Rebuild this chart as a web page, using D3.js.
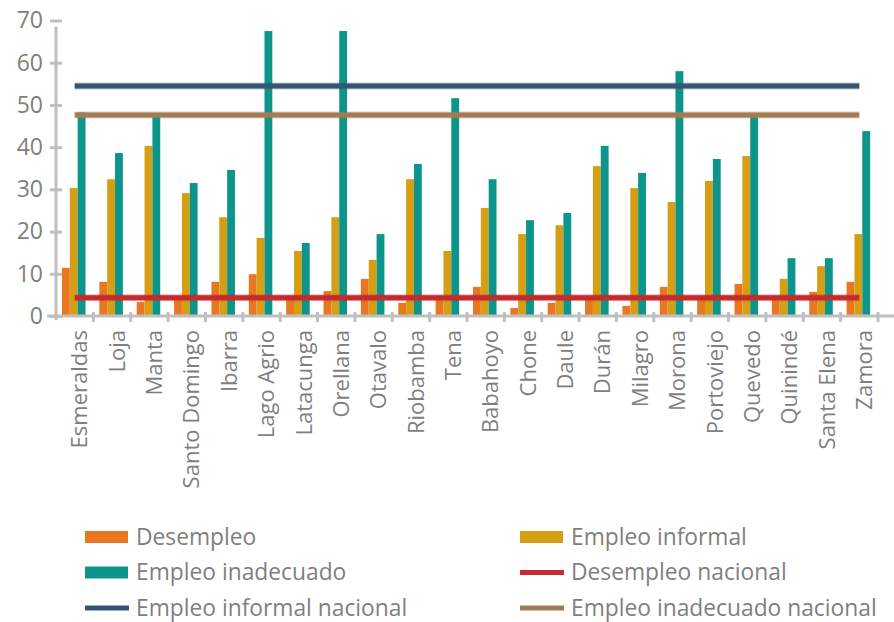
<!DOCTYPE html>
<html>
<head>
<meta charset="utf-8">
<script src="https://cdn.jsdelivr.net/npm/d3@7"></script>
<style>
  html, body { margin: 0; padding: 0; background: #fff; }
  svg { display: block; }
  text { font-family: "Open Sans", "Noto Sans", sans-serif; }
</style>
</head>
<body>
<svg id="chart" width="894" height="622"></svg>
<script>
const categories = ["Esmeraldas","Loja","Manta","Santo Domingo","Ibarra","Lago Agrio","Latacunga","Orellana","Otavalo","Riobamba","Tena","Babahoyo","Chone","Daule","Durán","Milagro","Morona","Portoviejo","Quevedo","Quinindé","Santa Elena","Zamora"];
const desempleo = [11.4, 8.1, 3.3, 4.2, 8.1, 9.9, 4.0, 5.9, 8.8, 3.1, 4.3, 6.9, 1.9, 3.1, 4.2, 2.4, 6.9, 4.0, 7.6, 4.2, 5.7, 8.1];
const empleoInformal = [30.3, 32.4, 40.3, 29.1, 23.4, 18.5, 15.4, 23.4, 13.3, 32.4, 15.4, 25.6, 19.4, 21.5, 35.5, 30.3, 27.0, 32.0, 37.9, 8.8, 11.8, 19.4];
const empleoInadecuado = [48.2, 38.6, 47.2, 31.5, 34.6, 67.5, 17.3, 67.5, 19.4, 36.0, 51.6, 32.4, 22.7, 24.4, 40.3, 33.9, 58.0, 37.2, 47.1, 13.7, 13.7, 43.8];
const desempleoNacional = 4.3;
const empleoInformalNacional = 54.5;
const empleoInadecuadoNacional = 47.6;
const yTicks = [0, 10, 20, 30, 40, 50, 60, 70];

const barSeries = [
  { name: "Desempleo", values: desempleo, color: "#E87722" },
  { name: "Empleo informal", values: empleoInformal, color: "#D69E14" },
  { name: "Empleo inadecuado", values: empleoInadecuado, color: "#0E958B" }
];
const lineSeries = [
  { name: "Desempleo nacional", value: desempleoNacional, color: "#C42A2E" },
  { name: "Empleo informal nacional", value: empleoInformalNacional, color: "#34576F" },
  { name: "Empleo inadecuado nacional", value: empleoInadecuadoNacional, color: "#A57B53" }
];

const svg = d3.select("#chart");
const axisColor = "#BFBFBF";
const textColor = "#7F7F7F";

const x = d3.scaleBand().domain(categories).range([56, 878]).padding(0);
const bw = x.bandwidth();
const xs = d3.scaleBand().domain(barSeries.map(d => d.name)).range([bw * 0.16, bw * 0.79]).padding(0);
const y = d3.scaleLinear().domain([0, 70]).range([316, 20.5]);

// Bars
const g = svg.append("g");
barSeries.forEach(s => {
  g.selectAll(null).data(categories).enter().append("rect")
    .attr("x", (c) => x(c) + xs(s.name))
    .attr("width", xs.bandwidth())
    .attr("y", (c, i) => y(s.values[i]))
    .attr("height", (c, i) => y(0) - y(s.values[i]))
    .attr("fill", s.color);
});

// Axes lines
svg.append("line").attr("x1", 56).attr("x2", 56).attr("y1", y(70) + 6).attr("y2", y(0) + 4)
  .attr("stroke", axisColor).attr("stroke-width", 3);
svg.append("line").attr("x1", 47).attr("x2", 894).attr("y1", y(0)).attr("y2", y(0))
  .attr("stroke", axisColor).attr("stroke-width", 3);

// Y axis
const yAxis = svg.append("g").attr("transform", "translate(56,0)")
  .call(d3.axisLeft(y).tickValues(yTicks).tickSize(6).tickPadding(7).tickFormat(d3.format("d")));
yAxis.select(".domain").remove();
yAxis.selectAll(".tick line").attr("x1", -6).attr("x2", 6).attr("stroke", axisColor).attr("stroke-width", 3);
yAxis.selectAll(".tick text").attr("fill", textColor).style("font-size", "23px").style("font-family", "Open Sans");

// X axis ticks at band boundaries
const bounds = categories.map(c => x(c)).concat([x(categories[categories.length - 1]) + bw]);
svg.append("g").selectAll("line").data(bounds.slice(1)).enter().append("line")
  .attr("x1", d => d).attr("x2", d => d).attr("y1", y(0) - 4).attr("y2", y(0) + 6)
  .attr("stroke", axisColor).attr("stroke-width", 3);

// X labels
const xAxis = svg.append("g").attr("transform", `translate(0,${y(0)})`)
  .call(d3.axisBottom(x).tickSize(0).tickPadding(0));
xAxis.select(".domain").remove();
xAxis.selectAll(".tick text")
  .attr("transform", "translate(5,14) rotate(-90)")
  .attr("text-anchor", "end")
  .attr("x", 0).attr("y", 0).attr("dy", "0.35em")
  .attr("fill", textColor)
  .style("font-size", "22px").style("font-family", "Open Sans");

// National lines
lineSeries.forEach(s => {
  const ln = d3.line().x(c => x(c) + bw / 2).y(() => y(s.value));
  svg.append("path").datum(categories).attr("d", ln)
    .attr("fill", "none").attr("stroke", s.color).attr("stroke-width", 7).attr("stroke-opacity", 0.35);
  svg.append("path").datum(categories).attr("d", ln)
    .attr("fill", "none").attr("stroke", s.color).attr("stroke-width", 5);
});

// Legend
const legendItems = [
  { name: "Desempleo", color: "#E87722", type: "rect" },
  { name: "Empleo informal", color: "#D69E14", type: "rect" },
  { name: "Empleo inadecuado", color: "#0E958B", type: "rect" },
  { name: "Desempleo nacional", color: "#C42A2E", type: "line" },
  { name: "Empleo informal nacional", color: "#34576F", type: "line" },
  { name: "Empleo inadecuado nacional", color: "#A57B53", type: "line" }
];
const legend = svg.append("g");
legendItems.forEach((d, i) => {
  const col = i % 2, row = Math.floor(i / 2);
  const lx = col === 0 ? 85 : 520;
  const ly = 537 + row * 35.5;
  const item = legend.append("g").attr("transform", `translate(${lx},${ly})`);
  if (d.type === "rect") {
    item.append("rect").attr("x", 0).attr("y", -6).attr("width", 43).attr("height", 12).attr("fill", d.color);
  } else {
    item.append("line").attr("x1", 0).attr("x2", 44).attr("y1", 0).attr("y2", 0)
      .attr("stroke", d.color).attr("stroke-width", 5);
  }
  item.append("text").attr("x", 51).attr("y", 0).attr("dy", "0.35em")
    .attr("fill", textColor).style("font-size", "22.8px").text(d.name);
});
</script>
</body>
</html>
